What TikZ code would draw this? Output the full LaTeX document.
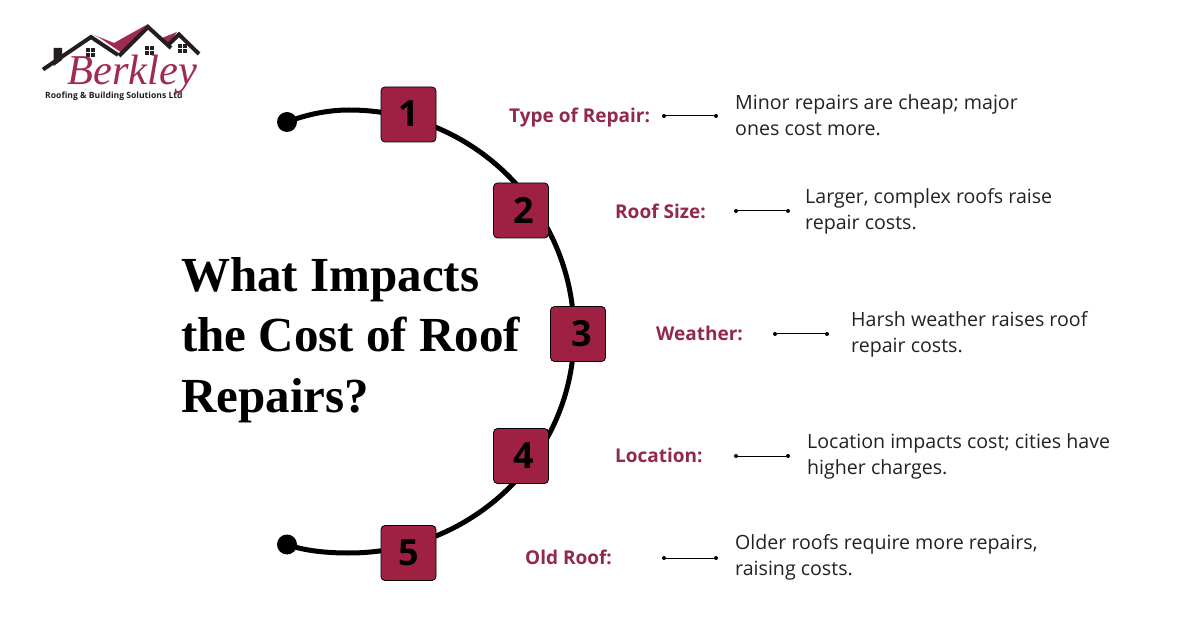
\documentclass[tikz,border=0pt]{standalone}
\usepackage{fontspec}
\setmainfont{Open Sans}
\newfontfamily\titlefont{Liberation Serif}
\newfontfamily\logofont{Liberation Serif}
\definecolor{boxred}{HTML}{9E2144}
\definecolor{labelred}{HTML}{92284C}
\definecolor{logored}{HTML}{A02A50}
\definecolor{logoblack}{HTML}{231F20}
\definecolor{bodyblack}{HTML}{222222}
\tikzset{
  numbox/.style={draw=black,line width=0.8pt,fill=boxred,rounded corners=4pt,minimum size=55pt,inner sep=0pt,font=\bfseries\fontsize{36}{36}\selectfont,text=black},
  enddot/.style={circle,fill=black,minimum size=20pt,inner sep=0pt},
  pin/.style={circle,fill=black,minimum size=4pt,inner sep=0pt},
  pinline/.style={draw=black,line width=1pt},
  itemlabel/.style={anchor=west,inner sep=0pt,text=labelred,font=\bfseries\fontsize{19}{19}\selectfont},
  itemtext/.style={anchor=west,inner sep=0pt,align=left,text=bodyblack,font=\fontsize{19.6}{26}\selectfont},
  titleline/.style={anchor=base west,inner sep=0pt,text=black,font=\titlefont\bfseries\fontsize{49}{49}\selectfont},
  arcline/.style={draw=black,line width=5pt},
  roofline/.style={draw=logoblack,line width=4pt,miter limit=10},
}
\begin{document}
\begin{tikzpicture}[x=1pt,y=-1pt]
\useasboundingbox (0,0) rectangle (1200,628);
\fill[white] (0,0) rectangle (1200,628);
% logo
\fill[logored] (93,34.5) -- (114,43) -- (148,24) -- (122,53) -- (100,38) -- cycle;
\fill[logored] (162,38) -- (177,32) -- (168,46) -- cycle;
\fill[logoblack] (53.7,48) -- (62,48) -- (62,60) -- (53.7,66) -- cycle;
\draw[roofline] (43,69.5) -- (91,37) -- (118,55);
\draw[roofline] (119,56) -- (148,27) -- (171,48);
\draw[roofline] (167,46) -- (179,34.5) -- (199,54);
\foreach \x/\y in {90.5/52.5,149/50.5,182/48.5}{
  \fill[logoblack] (\x-4.5,\y-4.5) rectangle (\x-0.5,\y-0.5);
  \fill[logoblack] (\x+0.5,\y-4.5) rectangle (\x+4.5,\y-0.5);
  \fill[logoblack] (\x-4.5,\y+0.5) rectangle (\x-0.5,\y+4.5);
  \fill[logoblack] (\x+0.5,\y+0.5) rectangle (\x+4.5,\y+4.5);
}
\node[anchor=base west,inner sep=0pt,text=logored,font=\logofont\itshape\fontsize{42.5}{42}\selectfont] (logotext) at (67,85) {Berkley};
\node[anchor=base west,inner sep=0pt,text=logoblack,font=\bfseries\fontsize{8.6}{9}\selectfont] (logosub) at (45,99) {Roofing \& Building Solutions Ltd};
% title
\node[titleline] (t1) at (181,292) {What Impacts};
\node[titleline] (t2) at (181,352) {the Cost of Roof};
\node[titleline] (t3) at (181,413) {Repairs?};
% arc
\node[enddot] (dotA) at (287,122) {};
\node[enddot] (dotB) at (287,544.5) {};
\coordinate (arcTop) at (349,110);
\coordinate (arcRight) at (574,334);
\coordinate (arcBot) at (349,553);
\draw[arcline] (dotA.center) .. controls (305,115) and (327,110) .. (arcTop)
  .. controls (473,110) and (574,210) .. (arcRight)
  .. controls (574,455) and (473,553) .. (arcBot)
  .. controls (327,553) and (305,551) .. (dotB.center);
% boxes
\node[numbox] (b1) at (408.5,114.5) {\raisebox{2pt}{1}};
\node[numbox] (b2) at (521,210.5) {\kern6pt 2};
\node[numbox] (b3) at (578,334) {\kern8pt 3};
\node[numbox] (b4) at (521,456) {\kern6pt 4};
\node[numbox] (b5) at (408.5,553) {5};
% items
\node[itemlabel] (l1) at (509,118) {Type of Repair:};
\node[itemlabel] (l2) at (615,211) {Roof Size:};
\node[itemlabel] (l3) at (656,333) {Weather:};
\node[itemlabel] (l4) at (615,455) {Location:};
\node[itemlabel] (l5) at (525,557) {Old Roof:};
\node[pin] (p1a) at (664,116) {}; \node[pin] (p1b) at (716,116) {};
\node[pin] (p2a) at (736,211) {}; \node[pin] (p2b) at (788,211) {};
\node[pin] (p3a) at (775,334) {}; \node[pin] (p3b) at (827,334) {};
\node[pin] (p4a) at (736,456) {}; \node[pin] (p4b) at (788,456) {};
\node[pin] (p5a) at (664,558) {}; \node[pin] (p5b) at (716,558) {};
\foreach \n in {1,...,5}{\draw[pinline] (p\n a) -- (p\n b);}
\node[itemtext] (d1) at (735,115) {Minor repairs are cheap; major\\ones cost more.};
\node[itemtext] (d2) at (805,211) {Larger, complex roofs raise\\repair costs.};
\node[itemtext] (d3) at (851,334.5) {Harsh weather raises roof\\repair costs.};
\node[itemtext] (d4) at (807,456.5) {Location impacts cost; cities have\\higher charges.};
\node[itemtext] (d5) at (735,557.5) {Older roofs require more repairs,\\raising costs.};
\end{tikzpicture}
\end{document}
